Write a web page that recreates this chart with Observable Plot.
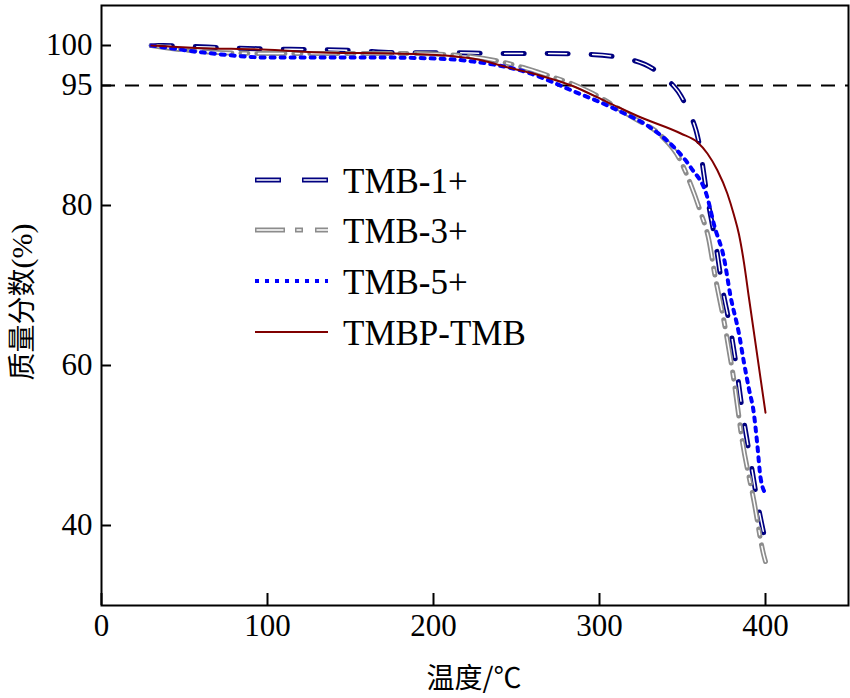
<!DOCTYPE html>
<html>
<head>
<meta charset="utf-8">
<script src="https://cdn.jsdelivr.net/npm/d3@7"></script>
<script src="https://cdn.jsdelivr.net/npm/@observablehq/plot@0.6"></script>
<style>
  html, body { margin: 0; padding: 0; background: white; }
  #chart { position: relative; width: 850px; height: 698px; }
</style>
</head>
<body>
<div id="chart"></div>
<script>
// ---- data ----
const seriesNames = ["TMB-1+", "TMB-3+", "TMB-5+", "TMBP-TMB"];

const tmb1T = [30, 37, 64, 94, 121, 151, 179, 209, 237, 266, 293, 315, 336, 352, 360, 365, 370, 374, 379, 382, 386, 391, 395, 400];
const tmb1W = [100, 100, 99.8, 99.6, 99.5, 99.4, 99.1, 99.1, 99.0, 99.0, 98.9, 98.4, 96.5, 92.5, 87.75, 81, 75.25, 69.75, 64.4, 60.5, 54.4, 48.1, 43.1, 38];

const tmb3T = [30, 33, 73, 103, 147, 187, 223, 254, 269, 283, 296, 320, 337, 348, 355, 361, 366, 369, 376, 381, 386, 393, 399, 400];
const tmb3W = [100, 99.9, 99.1, 99.0, 99.0, 99.0, 98.6, 97.25, 96.25, 95.25, 94.0, 91.0, 88.75, 85.9, 82.6, 79.1, 75.6, 71.9, 64.4, 58.1, 50.6, 43.1, 36.25, 35.5];

const tmb5T = [30, 51, 79, 100, 143, 169, 197, 224, 257, 283, 311, 333, 345, 355, 365, 369, 375, 379, 384, 387, 390, 393, 395, 397, 400];
const tmb5W = [100, 99.4, 98.75, 98.5, 98.5, 98.5, 98.4, 98.0, 96.6, 94.4, 91.9, 89.4, 87.25, 84.75, 81.0, 77.6, 73.4, 68.6, 64.0, 60.4, 57.1, 54.0, 50.25, 46.0, 44.0];

const tmbpT = [30, 57, 97, 137, 177, 207, 225, 245, 264, 283, 305, 325, 349, 359, 365, 371, 377, 381, 384, 387, 390, 395, 400];
const tmbpW = [100, 99.7, 99.5, 99.1, 99.0, 98.75, 98.3, 97.25, 96.25, 95.0, 92.9, 91.0, 89.0, 87.9, 86.5, 84.4, 81.5, 78.8, 76.4, 72.9, 68.5, 61.3, 54.1];

const xTicks = [0, 100, 200, 300, 400];
const yTicks = [40, 60, 80, 95, 100];
const refLine = [95];
const xLabel = "温度/℃";
const yLabelCjk = "质量分数";
const yLabelUnit = "(%)";

// ---- tables ----
const toRows = (T, W) => T.map((t, i) => ({t, w: W[i]}));
const d1 = toRows(tmb1T, tmb1W);
const d3s = toRows(tmb3T, tmb3W);
const d5 = toRows(tmb5T, tmb5W);
const dp = toRows(tmbpT, tmbpW);

const NAVY = "#000080", GRAY = "#8c8c8c", BLUE = "#0000ff", RED = "#800000";
const curve = "monotone-x";
const serif = "'Liberation Serif', 'Times New Roman', serif";

const chart = Plot.plot({
  width: 850,
  height: 698,
  marginLeft: 101,
  marginRight: 2,
  marginTop: 5,
  marginBottom: 93,
  x: {domain: [0, 450]},
  y: {domain: [30, 105]},
  style: {fontFamily: serif, fontSize: "31px", color: "black", background: "white", overflow: "visible"},
  marks: [
    Plot.ruleY(refLine, {stroke: "black", strokeWidth: 2, strokeDasharray: "14,10"}),
    // TMB-1+ outlined dashes
    Plot.line(d1, {x: "t", y: "w", curve, stroke: NAVY, strokeWidth: 5, strokeDasharray: "21,23"}),
    Plot.line(d1, {x: "t", y: "w", curve, stroke: "white", strokeWidth: 1.5, strokeDasharray: "18,26", strokeDashoffset: -1.5}),
    // TMB-3+ outlined dash-dot
    Plot.line(d3s, {x: "t", y: "w", curve, stroke: GRAY, strokeWidth: 5, strokeDasharray: "28,9,7,9"}),
    Plot.line(d3s, {x: "t", y: "w", curve, stroke: "white", strokeWidth: 1.5, strokeDasharray: "25,12,4,12", strokeDashoffset: -1.5}),
    // TMB-5+ dotted
    Plot.line(d5, {x: "t", y: "w", curve, stroke: BLUE, strokeWidth: 4, strokeDasharray: "4,6"}),
    // TMBP-TMB solid
    Plot.line(dp, {x: "t", y: "w", curve, stroke: RED, strokeWidth: 2}),
    Plot.frame({stroke: "black", strokeWidth: 2}),
    Plot.axisX(xTicks, {tickSize: -12, tickPadding: 20, strokeWidth: 2, label: null, fontSize: 31}),
    Plot.axisY(yTicks, {tickSize: -10, tickPadding: 19, strokeWidth: 2, label: null, fontSize: 31})
  ]
});

document.getElementById("chart").appendChild(chart);

// ---- axis titles & legend ----
const svg = d3.select(chart);
const cjk = "'Noto Sans CJK SC', 'Liberation Serif', serif";

svg.append("text")
  .attr("x", 474).attr("y", 688)
  .attr("text-anchor", "middle")
  .style("font-family", cjk)
  .style("font-size", "28px")
  .attr("fill", "black")
  .text(xLabel);

const yt = svg.append("text")
  .attr("transform", "translate(32,302) rotate(-90)")
  .attr("text-anchor", "middle")
  .style("font-size", "28px")
  .attr("fill", "black");
yt.append("tspan").style("font-family", cjk).text(yLabelCjk);
yt.append("tspan").style("font-family", serif).style("font-size", "30px").text(yLabelUnit);

const legend = svg.append("g").attr("text-anchor", "start");
const rowY = [180, 230, 281, 332];
const styles = [
  {stroke: NAVY, w: 5, dash: "26,21", inner: "23,24", off: -1.5},
  {stroke: GRAY, w: 5, dash: "30,10,8,12", inner: "27,13,5,15", off: -1.5},
  {stroke: BLUE, w: 4, dash: "4,6", inner: null},
  {stroke: RED, w: 2, dash: null, inner: null}
];
seriesNames.forEach((name, i) => {
  const s = styles[i];
  const y = rowY[i];
  const l = legend.append("line")
    .attr("x1", 255).attr("x2", 328).attr("y1", y).attr("y2", y)
    .attr("stroke", s.stroke).attr("stroke-width", s.w);
  if (s.dash) l.attr("stroke-dasharray", s.dash);
  if (s.inner) {
    legend.append("line")
      .attr("x1", 255).attr("x2", 328).attr("y1", y).attr("y2", y)
      .attr("stroke", "white").attr("stroke-width", 1.5)
      .attr("stroke-dasharray", s.inner).attr("stroke-dashoffset", s.off);
  }
  legend.append("text")
    .attr("x", 343).attr("y", y + 13)
    .attr("text-anchor", "start")
    .style("font-family", serif)
    .style("font-size", "35px")
    .attr("fill", "black")
    .text(name);
});
</script>
</body>
</html>
